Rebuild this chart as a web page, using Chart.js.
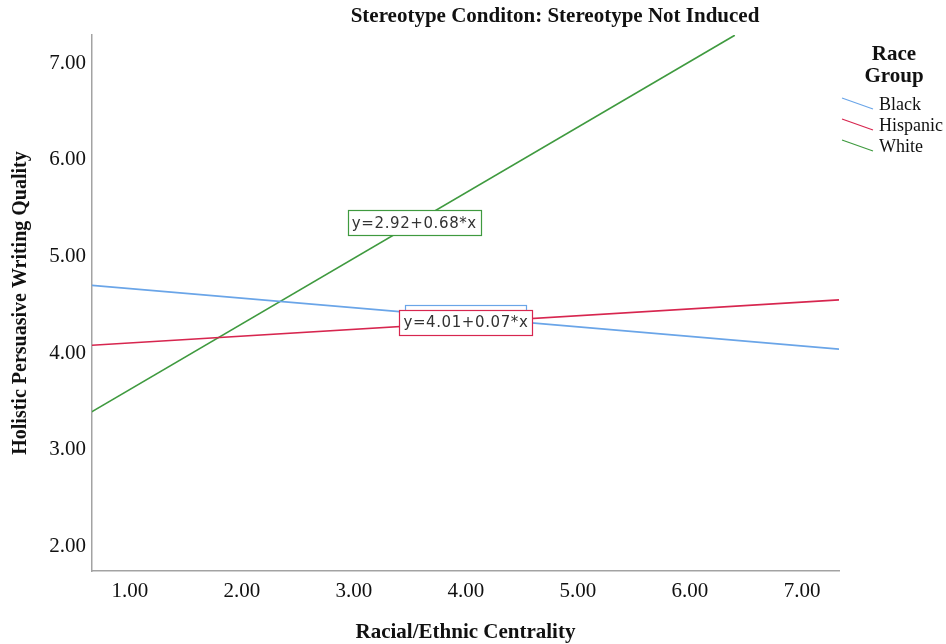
<!DOCTYPE html>
<html>
<head>
<meta charset="utf-8">
<script src="https://cdn.jsdelivr.net/npm/chart.js@4/dist/chart.umd.min.js"></script>
<style>
  html, body { margin: 0; padding: 0; background: #fff; }
  canvas { display: block; }
</style>
</head>
<body>
<canvas id="c" width="946" height="644"></canvas>
<script>
// ---- data ----
const chartTitle = 'Stereotype Conditon: Stereotype Not Induced';
const xTitle = 'Racial/Ethnic Centrality';
const yTitle = 'Holistic Persuasive Writing Quality';
const legendTitle = ['Race', 'Group'];
const seriesNames = ['Black', 'Hispanic', 'White'];

// endpoints of each fit line (x, y)
const blackX = [0.66, 7.33];
const blackY = [4.68, 4.02];
const hispanicX = [0.66, 7.33];
const hispanicY = [4.06, 4.53];
const whiteX = [0.66, 6.40];
const whiteY = [3.37, 7.27];

// fit-line equation labels and the x value on the line where each sits
const fitLabels = ['', 'y=4.01+0.07*x', 'y=2.92+0.68*x'];
const fitLabelX = [4.0, 4.0, 3.54];

const xTicks = [1, 2, 3, 4, 5, 6, 7];
const yTicks = [2, 3, 4, 5, 6, 7];
const xRange = [0.663, 7.33];
const yRange = [1.723, 7.272];

const colors = ['#6aa5e8', '#d7264f', '#3f9a3f'];

function pts(xs, ys) { return xs.map((x, i) => ({ x: x, y: ys[i] })); }

const serif = "'Liberation Serif', 'Times New Roman', serif";

const titlePlugin = {
  id: 'topTitle',
  afterDraw(chart) {
    const ctx = chart.ctx;
    ctx.save();
    ctx.fillStyle = '#111';
    ctx.font = 'bold 21px ' + serif;
    ctx.textAlign = 'center';
    ctx.textBaseline = 'middle';
    ctx.fillText(chartTitle, 555, 17);
    ctx.restore();
  }
};

const legendPlugin = {
  id: 'sideLegend',
  afterDraw(chart) {
    const ctx = chart.ctx;
    ctx.save();
    ctx.fillStyle = '#111';
    ctx.font = 'bold 21px ' + serif;
    ctx.textAlign = 'center';
    ctx.textBaseline = 'middle';
    ctx.fillText(legendTitle[0], 894, 55);
    ctx.fillText(legendTitle[1], 894, 77);
    ctx.font = '18px ' + serif;
    ctx.textAlign = 'left';
    chart.data.datasets.forEach((ds, i) => {
      const cy = 104 + i * 21;
      ctx.strokeStyle = ds.borderColor;
      ctx.lineWidth = 1.2;
      ctx.beginPath();
      ctx.moveTo(842, cy - 6);
      ctx.lineTo(873, cy + 5);
      ctx.stroke();
      ctx.fillStyle = '#111';
      ctx.fillText(ds.label, 879, cy + 1);
    });
    ctx.restore();
  }
};

const fitLabelPlugin = {
  id: 'fitLabels',
  afterDatasetsDraw(chart) {
    const ctx = chart.ctx;
    const xs = chart.scales.x, ys = chart.scales.y;
    ctx.save();
    ctx.font = '15px "DejaVu Sans", sans-serif';
    try { ctx.letterSpacing = '0.6px'; } catch (e) {}
    ctx.textAlign = 'center';
    ctx.textBaseline = 'middle';
    chart.data.datasets.forEach((ds, i) => {
      const d = ds.data;
      const t = (fitLabelX[i] - d[0].x) / (d[1].x - d[0].x);
      const yv = d[0].y + t * (d[1].y - d[0].y);
      const px = xs.getPixelForValue(fitLabelX[i]);
      const py = ys.getPixelForValue(yv);
      const txt = fitLabels[i];
      const w = txt ? ctx.measureText(txt).width + 8 : 121;
      const h = 25;
      ctx.fillStyle = '#fff';
      ctx.fillRect(px - w / 2, py - h / 2, w, h);
      ctx.strokeStyle = ds.borderColor;
      ctx.lineWidth = 1.2;
      ctx.strokeRect(Math.round(px - w / 2) + 0.5, Math.round(py - h / 2) + 0.5, Math.round(w), h);
      if (txt) {
        ctx.fillStyle = '#333';
        ctx.fillText(txt, px, py + 1);
      }
    });
    ctx.restore();
  }
};

new Chart(document.getElementById('c'), {
  type: 'line',
  data: {
    datasets: [
      { label: seriesNames[0], data: pts(blackX, blackY), borderColor: colors[0] },
      { label: seriesNames[1], data: pts(hispanicX, hispanicY), borderColor: colors[1] },
      { label: seriesNames[2], data: pts(whiteX, whiteY), borderColor: colors[2] }
    ].map(d => Object.assign(d, { borderWidth: 1.6, pointRadius: 0, fill: false, tension: 0 }))
  },
  options: {
    responsive: false,
    animation: false,
    layout: { padding: { top: 35, right: 107, left: 0, bottom: 0 } },
    plugins: { legend: { display: false }, title: { display: false }, tooltip: { enabled: false } },
    scales: {
      x: {
        type: 'linear',
        min: xRange[0], max: xRange[1],
        afterBuildTicks: s => { s.ticks = xTicks.map(v => ({ value: v })); },
        afterFit: s => { s.height = 73; },
        grid: { display: false, drawTicks: false },
        border: { display: true, color: '#a3a3a3', width: 1.5 },
        ticks: { padding: 8, color: '#111', font: { family: serif, size: 21 }, callback: v => Number(v).toFixed(2), maxRotation: 0 },
        title: { display: true, text: xTitle, color: '#111', font: { family: serif, size: 21, weight: 'bold' }, padding: { top: 0, bottom: -1.5 } }
      },
      y: {
        type: 'linear',
        min: yRange[0], max: yRange[1],
        afterBuildTicks: s => { s.ticks = yTicks.map(v => ({ value: v })); },
        afterFit: s => { s.width = 92; },
        grid: { display: false, drawTicks: false },
        border: { display: true, color: '#a3a3a3', width: 1.5 },
        ticks: { padding: 6, labelOffset: 2, color: '#111', font: { family: serif, size: 21 }, callback: v => Number(v).toFixed(2) },
        title: { display: true, text: yTitle, color: '#111', font: { family: serif, size: 20, weight: 'bold' }, padding: { top: 9, bottom: 0 } }
      }
    }
  },
  plugins: [titlePlugin, legendPlugin, fitLabelPlugin]
});
</script>
</body>
</html>
